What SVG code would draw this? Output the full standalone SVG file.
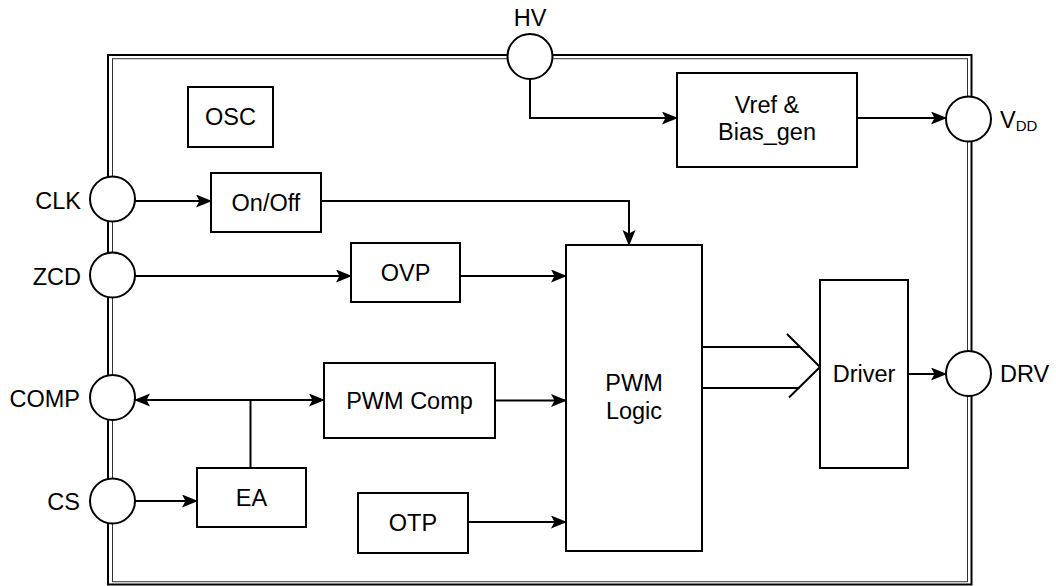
<svg xmlns="http://www.w3.org/2000/svg" width="1056" height="586" viewBox="0 0 1056 586">
<style>
  .box { fill: #fff; stroke: #000; stroke-width: 2; }
  .pin { fill: #fff; stroke: #000; stroke-width: 2; }
  .ln { fill: none; stroke: #000; stroke-width: 2; }
  text { font-family: "Liberation Sans", Arial, sans-serif; font-size: 23.5px; fill: #000; }
  .c { text-anchor: middle; }
  .r { text-anchor: end; }
</style>
<defs>
  <marker id="arr" markerUnits="userSpaceOnUse" markerWidth="18" markerHeight="14" refX="15" refY="6.5" orient="auto-start-reverse">
    <path d="M0,0 L16,6.5 L0,13 L3.5,6.5 z" fill="#000"/>
  </marker>
</defs>
<rect fill="#fff" x="0" y="0" width="1056" height="586"/>
<g id="frame">
  <rect x="108" y="55" width="863.5" height="529.5" fill="none" stroke="#000" stroke-width="2"/>
  <rect x="112.5" y="58.7" width="855" height="523" fill="none" stroke="#333" stroke-width="1"/>
</g>
<g id="connectors">
  <path class="ln" d="M530,79 V118 H677" marker-end="url(#arr)"/>
  <path class="ln" d="M857,118 H946" marker-end="url(#arr)"/>
  <path class="ln" d="M135,201 H211" marker-end="url(#arr)"/>
  <path class="ln" d="M321,201 H629 V245" marker-end="url(#arr)"/>
  <path class="ln" d="M135,276 H351" marker-end="url(#arr)"/>
  <path class="ln" d="M460,276 H566" marker-end="url(#arr)"/>
  <path class="ln" d="M135,400 H324" marker-start="url(#arr)" marker-end="url(#arr)"/>
  <path class="ln" d="M250.5,400 V468"/>
  <path class="ln" d="M495,400.5 H566" marker-end="url(#arr)"/>
  <path class="ln" d="M135,501 H197" marker-end="url(#arr)"/>
  <path class="ln" d="M468,522 H566" marker-end="url(#arr)"/>
  <path class="ln" d="M702,347 H800 M702,388 H799.5"/>
  <path class="ln" d="M787,334 L820,367 L789,397.5"/>
  <path class="ln" d="M908,374 H946" marker-end="url(#arr)"/>
</g>
<g id="OSC"><rect class="box" x="188" y="87" width="85" height="60"/><text class="c" x="230.5" y="125">OSC</text></g>
<g id="OnOff"><rect class="box" x="211" y="173" width="110" height="59"/><text class="c" x="266" y="211">On/Off</text></g>
<g id="OVP"><rect class="box" x="351" y="243" width="109" height="59"/><text class="c" x="405.5" y="281">OVP</text></g>
<g id="PWMComp"><rect class="box" x="324" y="363" width="171" height="75"/><text class="c" x="409.5" y="409">PWM Comp</text></g>
<g id="EA"><rect class="box" x="197" y="468" width="109" height="59"/><text class="c" x="251.5" y="506">EA</text></g>
<g id="OTP"><rect class="box" x="358" y="493" width="110" height="60"/><text class="c" x="413" y="531">OTP</text></g>
<g id="PWMLogic"><rect class="box" x="566" y="245" width="136" height="306"/><text class="c" x="634" y="391">PWM</text><text class="c" x="634" y="419">Logic</text></g>
<g id="Driver"><rect class="box" x="820" y="280" width="88" height="188"/><text class="c" x="864" y="382">Driver</text></g>
<g id="Vref"><rect class="box" x="677" y="73" width="180" height="94"/><text class="c" x="767" y="113">Vref &amp;</text><text class="c" x="767" y="140">Bias_gen</text></g>
<g id="pin-HV"><circle class="pin" cx="530" cy="56.5" r="22.5"/><text class="c" x="530" y="26">HV</text></g>
<g id="pin-VDD"><circle class="pin" cx="968.5" cy="119" r="22.5"/><text x="1000" y="128">V<tspan font-size="15" dy="3">DD</tspan></text></g>
<g id="pin-DRV"><circle class="pin" cx="968.5" cy="373.5" r="22.5"/><text x="1000" y="382">DRV</text></g>
<g id="pin-CLK"><circle class="pin" cx="112.5" cy="199" r="22.5"/><text class="r" x="81" y="209">CLK</text></g>
<g id="pin-ZCD"><circle class="pin" cx="112.5" cy="275" r="22.5"/><text class="r" x="81" y="285">ZCD</text></g>
<g id="pin-COMP"><circle class="pin" cx="112.5" cy="397.5" r="22.5"/><text class="r" x="80" y="407">COMP</text></g>
<g id="pin-CS"><circle class="pin" cx="112.5" cy="501" r="22.5"/><text class="r" x="80" y="510">CS</text></g>
</svg>
